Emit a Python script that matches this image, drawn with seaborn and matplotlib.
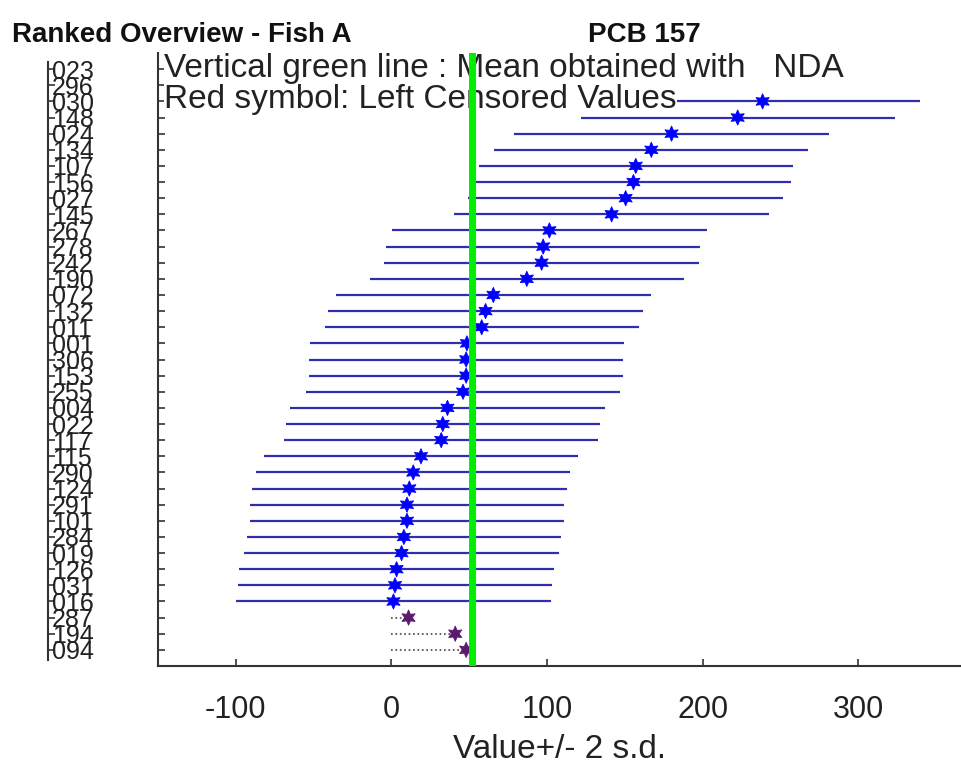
import numpy as np
import pandas as pd
import matplotlib
matplotlib.use('Agg')
import matplotlib.pyplot as plt
import seaborn as sns

#---- dados
labs = ['023', '296', '030', '148', '024', '134', '107', '156', '027', '145',
        '267', '278', '242', '190', '072', '132', '011', '001', '306', '153',
        '255', '004', '022', '117', '115', '290', '124', '291', '101', '284',
        '019', '126', '031', '016', '287', '194', '094']
vals = [np.nan, np.nan, 238.5, 222.5, 180.0, 167.0, 157.0, 155.5, 150.5, 141.5,
        101.5, 97.5, 96.5, 87.0, 65.5, 60.5, 58.0, 48.5, 48.0, 48.0,
        46.0, 36.0, 33.0, 32.0, 19.0, 14.0, 11.5, 10.0, 10.0, 8.0,
        6.5, 3.3, 2.3, 1.3, 11.0, 41.0, 48.0]
censored = [False] * 34 + [True] * 3
two_sd = 101.0
mean_nda = 52.0

df = pd.DataFrame({'lab': labs, 'val': vals, 'cens': censored})
df['pos'] = np.arange(1, len(df) + 1)

sns.set_style('white')
plt.rcParams['font.family'] = ['Liberation Sans', 'DejaVu Sans']
plt.rcParams['axes.unicode_minus'] = False

fig = plt.figure(figsize=(9.61, 7.75), dpi=100)
ax = fig.add_axes([158 / 961, 109 / 775, 803 / 961, 613 / 775])

ok = df[(~df['cens']) & df['val'].notna()]
cen = df[df['cens']]

# barras +/- 2 s.d.
ax.hlines(ok['pos'], ok['val'] - two_sd, ok['val'] + two_sd,
          colors='#2f2fae', linewidth=1.6, zorder=2)
# censurados: pontilhado de 0 ate o valor
ax.hlines(cen['pos'], 0, cen['val'], colors='#444444', linestyles=':',
          linewidth=1.2, zorder=2)

sns.scatterplot(data=df.dropna(subset=['val']), x='val', y='pos', hue='cens',
                palette={False: '#0000ff', True: '#5c1a6e'}, marker=(6, 1, 0),
                s=120, linewidth=0.6, legend=False, ax=ax, zorder=3)
for c in ax.collections[2:]:
    c.set_edgecolor(c.get_facecolor())

ax.axvline(mean_nda, color='#00ee00', linewidth=5, zorder=6)

box = dict(facecolor='white', edgecolor='none', boxstyle='square,pad=0')
ax.text(-146, 1.48, 'Vertical green line : Mean obtained with   NDA',
        fontsize=24, va='baseline', ha='left', color='#222222', zorder=4, bbox=box)
ax.text(-146, 3.42, 'Red symbol: Left Censored Values',
        fontsize=24, va='baseline', ha='left', color='#222222', zorder=4, bbox=box)

ax.set_xlim(-150, 366)
ax.set_ylim(38, 0)
ax.set_xticks([-100, 0, 100, 200, 300])
ax.set_yticks(df['pos'])
ax.set_yticklabels([])
ax.tick_params(direction='in', length=5, width=1.2, colors='#333333',
               labelcolor='#222222', labelsize=22, left=True, bottom=True)
ax.tick_params(axis='x', pad=21)
ax.set_xlabel('Value+/- 2 s.d.', fontsize=24, color='#222222', labelpad=6)
ax.set_ylabel('')
for s in ['top', 'right']:
    ax.spines[s].set_visible(False)
for s in ['left', 'bottom']:
    ax.spines[s].set_color('#333333')
    ax.spines[s].set_linewidth(1.5)

# coluna de rotulos dos laboratorios
ax2 = fig.add_axes([48 / 961, 109 / 775, 0.0005, 613 / 775])
ax2.set_ylim(38, 0)
ax2.patch.set_visible(False)
ax2.set_xticks([])
ax2.set_yticks(df['pos'])
ax2.set_yticklabels(labs)
for t in ax2.get_yticklabels():
    t.set_ha('left')
ax2.tick_params(axis='y', direction='in', length=5, width=1.2, pad=-3, left=True,
                colors='#333333', labelcolor='#222222', labelsize=18)
for s in ['top', 'right', 'bottom']:
    ax2.spines[s].set_visible(False)
ax2.spines['left'].set_bounds(37.6, 0.56)
ax2.spines['left'].set_color('#333333')
ax2.spines['left'].set_linewidth(1.5)

fig.text(12 / 961, 1 - 42 / 775, 'Ranked Overview - Fish A', fontsize=20,
         weight='bold', va='baseline', color='#111111')
fig.text(588 / 961, 1 - 42 / 775, 'PCB 157', fontsize=20,
         weight='bold', va='baseline', color='#111111')

fig.savefig('out.png', dpi=100)
